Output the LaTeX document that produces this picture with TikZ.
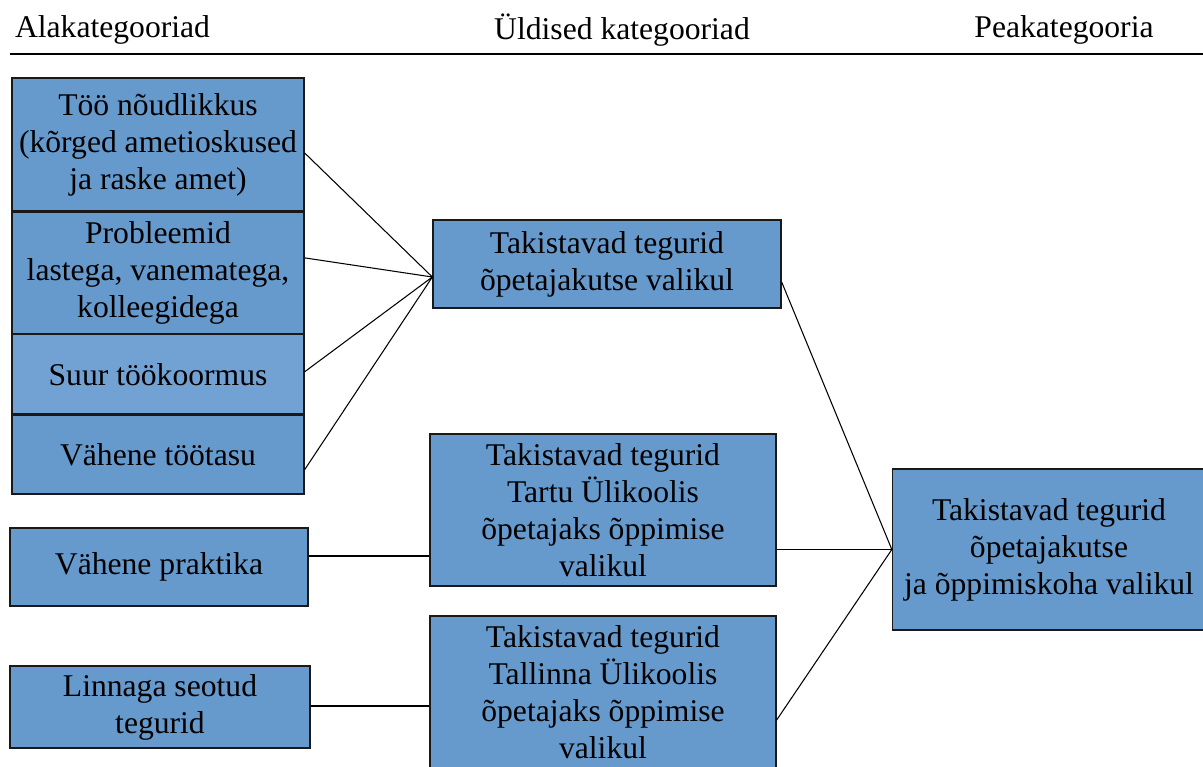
\documentclass[tikz,border=0pt]{standalone}
\usepackage{fontspec}
\setmainfont{Liberation Serif}
\usepackage{tikz}
\usetikzlibrary{positioning,calc}
\definecolor{boxblue}{RGB}{102,153,204}
\definecolor{boxlight}{RGB}{114,162,211}
\tikzstyle{block} = [rectangle, draw=black!90, line width=0.8pt, fill=boxblue,
align=center, inner sep=0pt, font=\fontsize{18}{21}\selectfont]
\tikzstyle{head} = [font=\fontsize{18}{21}\selectfont, inner sep=0pt]
\tikzstyle{line} = [draw, line width=0.6pt]

\begin{document}
\begin{tikzpicture}[x=0.02cm,y=-0.02cm]
         \useasboundingbox (0,0) rectangle (1203,767);

         % pealkirjad
         \node (HeadSub)  [head] at (112.5,30) {Alakategooriad};
         \node (HeadGen)  [head] at (622,30) {Üldised kategooriad};
         \node (HeadMain) [head] at (1064,30) {Peakategooria};
         \draw [line width=0.9pt] (10,54) -- (1203,54);

         % alakategooriad
         \node (Demand)   [block, minimum width=5.84cm, minimum height=2.66cm] at (158,144.5) {Töö nõudlikkus\\(kõrged ametioskused\\ja raske amet)};
         \node (Problems) [block, minimum width=5.84cm, minimum height=2.42cm, below=0pt of Demand] {Probleemid\\lastega, vanematega,\\kolleegidega};
         \node (Workload) [block, fill=boxlight, minimum width=5.84cm, minimum height=1.58cm, below=0pt of Problems] {Suur töökoormus};
         \node (Salary)   [block, minimum width=5.84cm, minimum height=1.58cm, below=0pt of Workload] {Vähene töötasu};
         \node (Practice) [block, minimum width=5.96cm, minimum height=1.56cm] at (159,567) {Vähene praktika};
         \node (City)     [block, minimum width=6.0cm, minimum height=1.64cm] at (160,707) {Linnaga seotud\\tegurid};

         % üldised kategooriad
         \node (General1) [block, minimum width=6.96cm, minimum height=1.76cm] at (607,264) {Takistavad tegurid\\õpetajakutse valikul};
         \node (General2) [block, minimum width=6.92cm, minimum height=3.04cm] at (603,510) {Takistavad tegurid\\Tartu Ülikoolis\\õpetajaks õppimise\\valikul};
         \node (General3) [block, minimum width=6.92cm, minimum height=3.04cm] at (603,692) {Takistavad tegurid\\Tallinna Ülikoolis\\õpetajaks õppimise\\valikul};

         % peakategooria
         \node (Main) [block, minimum width=6.26cm, minimum height=3.22cm] at (1049,549.5) {Takistavad tegurid\\õpetajakutse\\ja õppimiskoha valikul};

         \coordinate (In1) at ($(General1.west)+(0,13)$);
         \coordinate (In2) at ($(General2.west)+(0,46)$);
         \coordinate (In3) at ($(General3.west)+(0,14)$);

         \path [line] ($(Demand.east)+(0,8.5)$) -- (In1);
         \path [line] ($(Problems.east)+(0,-15)$) -- (In1);
         \path [line] ($(Workload.east)+(0,-2.5)$) -- (In1);
         \path [line] ($(Salary.east)+(0,15)$) -- (In1);

         \path [line] (Practice.east |- In2) -- (In2);
         \path [line] (City.east |- In3) -- (In3);

         \path [line] ($(General1.east)+(0,18)$) -- (Main.west);
         \path [line] (General2.east |- Main.west) -- (Main.west);
         \path [line] ($(General3.east)+(0,28)$) -- (Main.west);

     \end{tikzpicture}
\end{document}
